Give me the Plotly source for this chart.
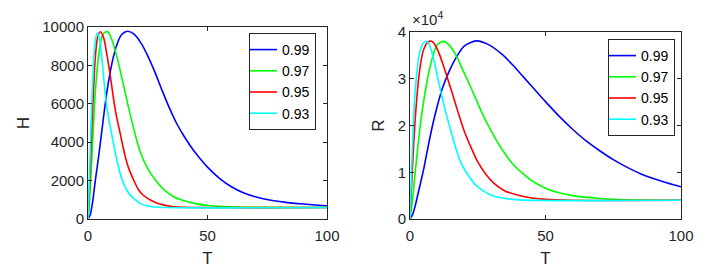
import plotly.graph_objects as go

# ---------------- data ----------------
series_names = ["0.99", "0.97", "0.95", "0.93"]
series_colors = ["#0000ff", "#00ff00", "#ff0000", "#00ffff"]

# H panel
h_t_099 = [0, 1, 2, 3, 4, 5, 6, 7, 8, 10, 12, 14, 16.5, 19, 22, 25, 28, 31, 34, 37, 40, 43, 46, 50, 55, 60, 65, 70, 76, 82, 90, 100]
h_v_099 = [0, 250, 950, 1950, 2850, 3800, 4800, 5800, 6700, 8100, 9050, 9600, 9780, 9650, 9200, 8500, 7650, 6700, 5800, 5000, 4350, 3780, 3280, 2700, 2120, 1680, 1370, 1160, 990, 880, 780, 690]

h_t_097 = [0, 0.5, 1, 1.5, 2, 2.5, 3, 4, 5, 6, 7, 8.2, 9.5, 11, 12.5, 14, 15.8, 17.7, 19.8, 22, 25, 28.2, 32, 36, 39.3, 45, 50, 60, 70, 100]
h_v_097 = [0, 700, 1700, 2900, 4200, 5400, 6500, 8000, 9000, 9550, 9720, 9750, 9500, 8950, 8250, 7450, 6450, 5420, 4380, 3450, 2620, 2030, 1500, 1150, 990, 800, 700, 630, 605, 600]

h_t_095 = [0, 0.5, 1, 1.5, 2, 2.5, 3, 4, 5.2, 6.5, 8, 9.5, 11, 11.8, 13.6, 15.5, 17, 19.1, 21, 23, 26.1, 30, 35, 40, 100]
h_v_095 = [0, 1200, 2800, 4400, 5900, 7200, 8300, 9450, 9750, 9450, 8500, 7300, 6000, 5420, 4380, 3300, 2650, 2030, 1550, 1250, 990, 780, 650, 610, 600]

h_t_093 = [0, 0.4, 0.8, 1.2, 1.7, 2.2, 2.8, 3.8, 4.8, 5.8, 6.6, 7.4, 8.4, 10.1, 12, 14.3, 16, 17.8, 19.8, 22, 25, 30, 100]
h_v_093 = [0, 1300, 3000, 4700, 6400, 7800, 9000, 9700, 9350, 8400, 7300, 6300, 5420, 4300, 3100, 2030, 1550, 1230, 990, 800, 680, 610, 600]

# R panel
r_t_099 = [0, 1, 2, 3, 4, 5, 6, 8, 10, 12, 14, 17, 20, 24.5, 29, 34, 38, 42, 46, 50, 55, 60, 65, 70, 75, 80, 85, 90, 95, 100]
r_v_099 = [0, 1000, 3000, 5500, 8000, 10500, 13500, 19200, 24000, 28000, 31000, 34500, 37000, 38100, 37300, 35200, 32900, 30300, 27700, 25100, 22000, 19200, 16700, 14600, 12700, 11100, 9700, 8600, 7700, 6900]

r_t_097 = [0, 1, 2, 3, 4, 5, 6, 7, 8.5, 10, 12.3, 14.5, 17, 19, 21, 23.5, 26.1, 28, 29.8, 32, 35, 38, 42.3, 46, 50, 55, 60, 70, 80, 100]
r_v_097 = [0, 4500, 10500, 16000, 21000, 25000, 28500, 31500, 35000, 37200, 38000, 37200, 35000, 32500, 30000, 26800, 23300, 21000, 19000, 16700, 14000, 11700, 9400, 7800, 6600, 5600, 5000, 4400, 4100, 4000]

r_t_095 = [0, 0.5, 1, 1.5, 2, 3, 4, 5, 6.5, 8, 9.5, 11, 12.5, 14, 15.8, 17.5, 19.9, 22, 25, 28.2, 31, 35, 39.9, 45, 50, 60, 100]
r_v_095 = [0, 6000, 12000, 17500, 22000, 29000, 33500, 36200, 37800, 38000, 37000, 35000, 32500, 29800, 26500, 23300, 19000, 16000, 12200, 9400, 7600, 6000, 5100, 4500, 4200, 4000, 4000]

r_t_093 = [0, 0.5, 1, 1.5, 2, 2.5, 3.2, 4, 5, 6.2, 7.5, 9, 10.5, 13, 15, 17, 19, 21.4, 24, 27, 30, 34, 40, 100]
r_v_093 = [0, 9000, 17000, 23500, 28000, 31000, 34500, 36500, 37700, 38000, 36800, 33500, 29500, 23300, 19000, 15000, 11800, 9400, 7400, 6000, 5100, 4500, 4100, 4000]

x_ticks = [0, 50, 100]
h_ticks = [0, 2000, 4000, 6000, 8000, 10000]
h_tick_text = ["0", "2000", "4000", "6000", "8000", "10000"]
r_ticks = [0, 10000, 20000, 30000, 40000]
r_tick_text = ["0", "1", "2", "3", "4"]

h_data = [(h_t_099, h_v_099), (h_t_097, h_v_097), (h_t_095, h_v_095), (h_t_093, h_v_093)]
r_data = [(r_t_099, r_v_099), (r_t_097, r_v_097), (r_t_095, r_v_095), (r_t_093, r_v_093)]

# ---------------- figure ----------------
W, H = 714, 268
ML, MR, MT, MB = 20, 20, 10, 20
PW, PH = W - ML - MR, H - MT - MB
FONT = "Liberation Sans, Arial, sans-serif"
AX = "#262626"

fig = go.Figure()
for (t, v), name, col in zip(h_data, series_names, series_colors):
    fig.add_trace(go.Scatter(x=t, y=v, mode="lines", name=name,
                             line=dict(color=col, width=1.6, shape="spline", smoothing=0.8),
                             xaxis="x", yaxis="y", legend="legend"))
for (t, v), name, col in zip(r_data, series_names, series_colors):
    fig.add_trace(go.Scatter(x=t, y=v, mode="lines", name=name,
                             line=dict(color=col, width=1.6, shape="spline", smoothing=0.8),
                             xaxis="x2", yaxis="y2", legend="legend2"))

def px_x(p):
    return (p - ML) / PW

def px_y(p):
    return (H - MB - p) / PH

axis_common = dict(showline=True, linecolor=AX, linewidth=1, mirror="allticks",
                   ticks="inside", ticklen=4, tickcolor=AX, tickwidth=1,
                   showgrid=False, zeroline=False, automargin=False,
                   tickfont=dict(family=FONT, size=15, color=AX))
title_font = dict(size=17, family=FONT, color=AX)

fig.update_layout(
    template="none",
    width=W, height=H,
    margin=dict(l=ML, r=MR, t=MT, b=MB, pad=0),
    paper_bgcolor="white", plot_bgcolor="white",
    font=dict(family=FONT, color=AX),
    xaxis=dict(domain=[px_x(88), px_x(327)], range=[0, 100], tickvals=x_ticks,
               anchor="y", ticklabelstandoff=3,
               title=dict(text="T", font=title_font, standoff=11),
               **axis_common),
    yaxis=dict(domain=[px_y(219), px_y(27)], range=[0, 10000], tickvals=h_ticks,
               ticktext=h_tick_text,
               anchor="x", title=dict(text="H", font=title_font, standoff=8),
               **axis_common),
    xaxis2=dict(domain=[px_x(410), px_x(681)], range=[0, 100], tickvals=x_ticks,
                anchor="y2", ticklabelstandoff=3,
                title=dict(text="T", font=title_font, standoff=11),
                **axis_common),
    yaxis2=dict(domain=[px_y(219), px_y(32)], range=[0, 40000], tickvals=r_ticks,
                ticktext=r_tick_text,
                anchor="x2", title=dict(text="R", font=title_font, standoff=8),
                **axis_common),
    legend=dict(x=px_x(316), y=px_y(33), xanchor="right", yanchor="top",
                bordercolor=AX, borderwidth=1, bgcolor="white",
                font=dict(family=FONT, size=14, color="#000000"),
                tracegroupgap=0, itemwidth=30, indentation=-8),
    legend2=dict(x=px_x(675), y=px_y(39), xanchor="right", yanchor="top",
                 bordercolor=AX, borderwidth=1, bgcolor="white",
                 font=dict(family=FONT, size=14, color="#000000"),
                 tracegroupgap=0, itemwidth=30, indentation=-8),
    annotations=[dict(text="×10<sup>4</sup>", x=px_x(410), y=px_y(30), xref="paper", yref="paper",
                      xanchor="left", yanchor="bottom", showarrow=False,
                      font=dict(family=FONT, size=15, color=AX))],
    showlegend=True,
)

fig.write_html("out.html",
               config={"displayModeBar": False},
               post_script="document.body.style.margin='0';document.body.style.overflow='hidden';")
